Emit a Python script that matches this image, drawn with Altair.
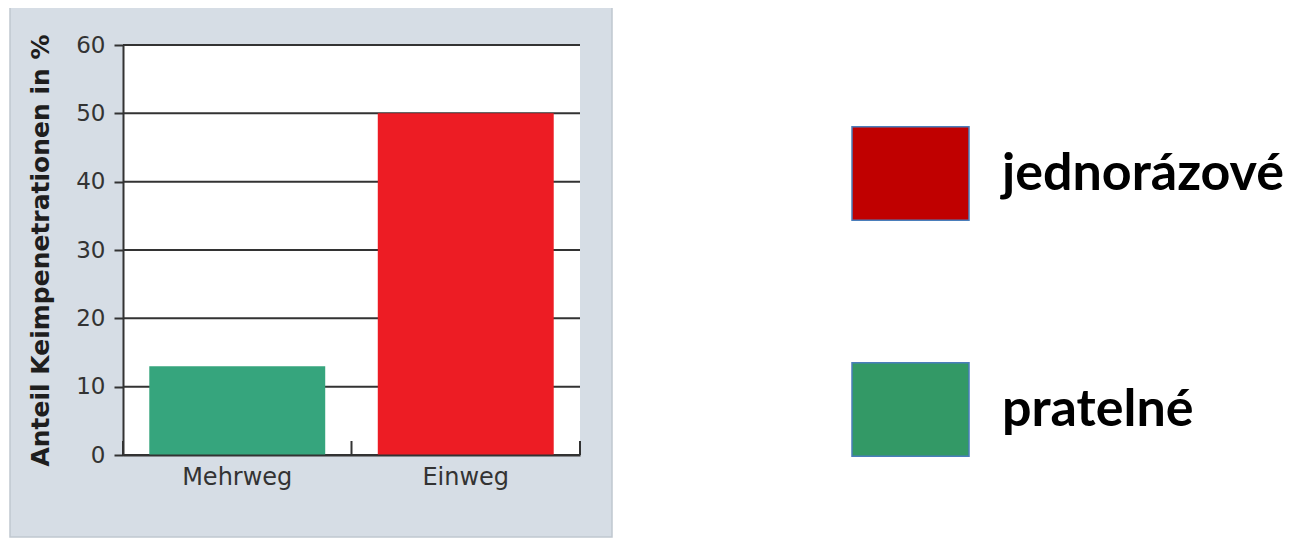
import altair as alt
import pandas as pd

categories = ["Mehrweg", "Einweg"]
values = [13, 50]
bar_colors = ["#36a57d", "#ed1c24"]
legend_labels = ["jednorázové", "pratelné"]
legend_colors = ["#c00000", "#339966"]
y_ticks = [0, 10, 20, 30, 40, 50, 60]
y_title = "Anteil Keimpenetrationen in %"

W, H = 457, 410
P_IN, P_OUT = 0.23, 0.115
STEP = W / (len(categories) - P_IN + 2 * P_OUT)
HALF_GAP = P_IN * STEP / 2

bars_df = pd.DataFrame({"cat": categories, "val": values})
grid_df = pd.DataFrame({"val": y_ticks})
legend_df = pd.DataFrame({"label": legend_labels})
one = pd.DataFrame({"k": [0]})

AX = "#333333"
xscale = alt.Scale(domain=categories, paddingInner=P_IN, paddingOuter=P_OUT)
yscale = alt.Scale(domain=[0, 60])

yaxis = alt.Axis(values=y_ticks, grid=False, zindex=1, domainColor=AX, domainWidth=2,
                 tickColor=AX, tickWidth=2, tickSize=9, labelFont="DejaVu Sans",
                 labelFontSize=23, labelColor="#333333", labelPadding=9,
                 title=y_title, titleFont="DejaVu Sans", titleFontWeight="bold",
                 titleFontSize=25, titleColor="#1e1e1e", titlePadding=22)
xaxis = alt.Axis(ticks=False, grid=False, zindex=1, domainColor=AX, domainWidth=2,
                 labelFont="DejaVu Sans", labelFontSize=24, labelColor="#333333",
                 labelPadding=10, labelAngle=0, title=None)

panel = alt.Chart(one).mark_rect(color="#d6dde5", stroke="#c0c7cf", strokeWidth=1.5).encode(
    x=alt.value(-113), x2=alt.value(489), y=alt.value(-40), y2=alt.value(492))
plotbg = alt.Chart(one).mark_rect(color="white").encode(
    x=alt.value(0), x2=alt.value(W), y=alt.value(0), y2=alt.value(H))
grid = alt.Chart(grid_df).mark_rule(color=AX, strokeWidth=2).encode(
    y=alt.Y("val:Q", scale=yscale, axis=yaxis),
    x=alt.value(0), x2=alt.value(W))
bars = alt.Chart(bars_df).mark_bar().encode(
    x=alt.X("cat:N", scale=xscale, axis=xaxis),
    y=alt.Y("val:Q", scale=yscale, axis=yaxis),
    color=alt.Color("cat:N", scale=alt.Scale(domain=categories, range=bar_colors), legend=None))
xt1 = alt.Chart(bars_df).mark_rule(color=AX, strokeWidth=2, xOffset=-HALF_GAP).encode(
    x=alt.X("cat:N", scale=xscale, axis=xaxis, bandPosition=0),
    y=alt.value(H), y2=alt.value(H - 14))
xt2 = alt.Chart(bars_df.tail(1)).mark_rule(color=AX, strokeWidth=2, xOffset=HALF_GAP).encode(
    x=alt.X("cat:N", scale=xscale, axis=xaxis, bandPosition=1),
    y=alt.value(H), y2=alt.value(H - 14))
leg = alt.Chart(legend_df).mark_point(filled=True, opacity=1).encode(
    x=alt.value(-300), y=alt.value(-300),
    color=alt.Color("label:N",
                    scale=alt.Scale(domain=legend_labels, range=legend_colors),
                    legend=alt.Legend(title=None, orient="none", legendX=728, legendY=69,
                                      direction="vertical", padding=0, rowPadding=126,
                                      symbolType="M-1,-0.8H1V0.8H-1Z", symbolSize=13689,
                                      symbolStrokeColor="#4a7ebb", symbolStrokeWidth=1.5,
                                      symbolOpacity=1, labelOffset=32, labelLimit=0,
                                      labelFont="Lato", labelFontWeight="bold",
                                      labelFontSize=52, labelColor="#000000")))

chart = alt.layer(panel, plotbg, grid, bars, xt1, xt2, leg).resolve_scale(
    color="independent"
).properties(
    width=W, height=H,
    autosize=alt.AutoSizeParams(type="none"),
    padding={"left": 115, "top": 37, "right": 705, "bottom": 83},
    background="white",
).configure_view(stroke="transparent")

chart.save("out.html", embed_options={"renderer": "svg", "actions": False})
